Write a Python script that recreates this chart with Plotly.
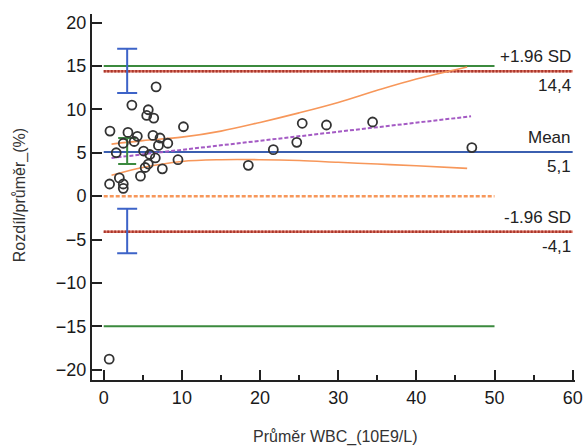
import plotly.graph_objects as go

# ---- data ----
mean_wbc = [6.7, 3.6, 5.7, 5.5, 6.4, 0.8, 3.1, 4.3, 6.3, 7.2, 10.2, 2.5, 7.0, 8.2, 1.6, 5.1,
            5.9, 6.6, 5.7, 5.3, 7.5, 9.5, 4.7, 2.0, 0.75, 2.5, 2.5, 3.9,
            25.4, 28.5, 34.4, 24.7, 21.7, 18.5, 47.1, 0.7]
diff_pct = [12.6, 10.5, 9.96, 9.3, 9.0, 7.5, 7.35, 6.9, 7.0, 6.7, 8.0, 6.1, 5.85, 6.1, 5.0, 5.2,
            4.8, 4.4, 3.7, 3.3, 3.15, 4.2, 2.3, 2.1, 1.4, 1.4, 0.9, 6.3,
            8.4, 8.2, 8.55, 6.2, 5.36, 3.55, 5.6, -18.8]

mean_diff = 5.1
upper_loa = 14.4
lower_loa = -4.1
limit_pos = 15
limit_neg = -15

# regression line of differences
reg_x = [1, 47]
reg_y = [4.4, 9.2]
# confidence band of the regression
band_x = [1, 5, 10, 15, 20, 25, 30, 35, 40, 46.5]
band_upper = [6.0, 6.4, 6.8, 7.5, 8.5, 9.6, 10.8, 12.2, 13.5, 14.9]
band_lower = [2.4, 3.3, 4.0, 4.2, 4.2, 4.1, 3.9, 3.7, 3.5, 3.2]

# confidence intervals (error bars) at x = 3
ci_x = 3
ci_upper = [14.4, 17.0, 11.9]   # center, top, bottom
ci_mean = [5.2, 6.7, 3.7]
ci_lower = [-4.1, -1.45, -6.6]

x_ticks = [0, 10, 20, 30, 40, 50, 60]
y_ticks = [-20, -15, -10, -5, 0, 5, 10, 15, 20]

x_title = "Průměr WBC_(10E9/L)"
y_title = "Rozdíl/průměr_(%)"

GREEN = "#3b8a3e"
RED = "#a8362c"
REDLIGHT = "#e07a6a"
BLUE = "#3b5fb0"
ORANGE = "#f7975a"
PURPLE = "#a45ac4"
ERRBLUE = "#3d63c8"

fig = go.Figure()

def hline(y, x0, x1, color, dash="solid", width=2):
    fig.add_trace(go.Scatter(x=[x0, x1], y=[y, y], mode="lines",
                             line=dict(color=color, dash=dash, width=width),
                             hoverinfo="skip", showlegend=False))

hline(limit_pos, 0, 50, GREEN)
hline(limit_neg, 0, 50, GREEN)
hline(0, 0, 50, ORANGE, "4px,2px", 2.5)
for yv in (upper_loa, lower_loa):
    hline(yv, 0, 60, REDLIGHT, "solid", 2.5)
    hline(yv, 0, 60, RED, "2px,1.5px", 2.5)
hline(mean_diff, 0, 60, BLUE, "solid", 2)

fig.add_trace(go.Scatter(x=band_x, y=band_upper, mode="lines", line=dict(color=ORANGE, width=1.6, shape="spline"),
                         showlegend=False, hoverinfo="skip"))
fig.add_trace(go.Scatter(x=band_x, y=band_lower, mode="lines", line=dict(color=ORANGE, width=1.6, shape="spline"),
                         showlegend=False, hoverinfo="skip"))
fig.add_trace(go.Scatter(x=reg_x, y=reg_y, mode="lines", line=dict(color=PURPLE, width=2, dash="4px,2px"),
                         showlegend=False, hoverinfo="skip"))

def errbar(vals, color, w):
    c, top, bot = vals
    fig.add_trace(go.Scatter(x=[ci_x], y=[c], mode="markers", marker=dict(size=1, color="rgba(0,0,0,0)"),
                             error_y=dict(type="data", symmetric=False, array=[top - c], arrayminus=[c - bot],
                                          color=color, thickness=2, width=w),
                             showlegend=False, hoverinfo="skip"))

errbar(ci_upper, ERRBLUE, 10)
errbar(ci_lower, ERRBLUE, 10)
errbar(ci_mean, GREEN, 9)

fig.add_trace(go.Scatter(x=mean_wbc, y=diff_pct, mode="markers",
                         marker=dict(symbol="circle-open", size=9, color="#333333", line=dict(width=1.8)),
                         showlegend=False))

labfont = dict(family="Liberation Sans, Arial, sans-serif", size=17, color="#222222")
ann = [("+1.96 SD", upper_loa, "bottom"), ("14,4", upper_loa, "top"),
       ("Mean", mean_diff, "bottom"), ("5,1", mean_diff, "top"),
       ("-1.96 SD", lower_loa, "bottom"), ("-4,1", lower_loa, "top")]
for text, y, anc in ann:
    fig.add_annotation(x=60, y=y, xref="x", yref="y", text=text, showarrow=False,
                       xanchor="right", yanchor=anc, yshift=3 if anc == "bottom" else -3,
                       font=labfont)

titlefont = dict(family="Liberation Sans, Arial, sans-serif", size=16, color="#333")
fig.add_annotation(x=0.505, y=-0.156, xref="paper", yref="paper", text=x_title, showarrow=False,
                   xanchor="center", yanchor="middle", font=titlefont)
fig.add_annotation(x=-0.149, y=0.505, xref="paper", yref="paper", text=y_title, showarrow=False,
                   xanchor="center", yanchor="middle", textangle=-90, font=titlefont)

axfont = dict(family="Liberation Sans, Arial, sans-serif", size=18, color="#1a1a1a")
fig.update_layout(
    width=587, height=446,
    margin=dict(l=92, r=12, t=14, b=66, autoexpand=False),
    paper_bgcolor="white", plot_bgcolor="white",
    xaxis=dict(range=[-1.5, 60.3], tickvals=x_ticks, ticks="inside", ticklen=10, tickwidth=2,
               tickcolor="#222", showline=True, linecolor="#222", linewidth=2, showgrid=False,
               zeroline=False, tickfont=axfont,
               minor=dict(dtick=5, tick0=0, ticks="inside", ticklen=5, tickwidth=2, tickcolor="#222")),
    yaxis=dict(range=[-21.2, 21.0], tickvals=y_ticks, ticks="inside", ticklen=10, tickwidth=2,
               tickcolor="#222", showline=True, linecolor="#222", linewidth=2, showgrid=False,
               zeroline=False, tickfont=axfont),
)

fig.write_html("out.html")
